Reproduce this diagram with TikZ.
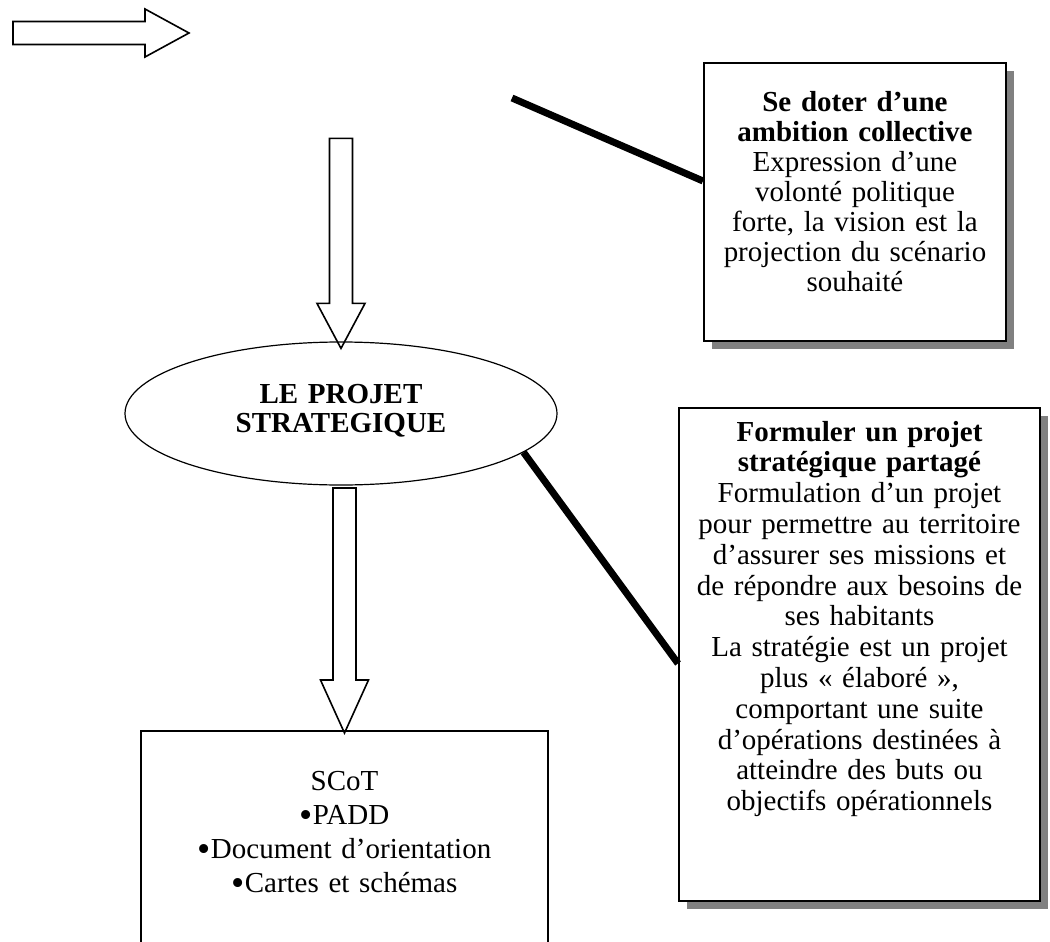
\documentclass[tikz,border=0pt]{standalone}
\usepackage{fontspec}
\usepackage{graphicx}
\setmainfont{Liberation Serif}
\usetikzlibrary{shapes.geometric,shadows,positioning,calc}
\tikzstyle{panel} = [draw, line width=1pt, fill=white, align=center, inner sep=4pt, anchor=north west, general shadow={fill=gray, shadow xshift=4pt, shadow yshift=-4pt}]
\tikzstyle{blockarrow} = [draw, line width=0.8pt, line join=miter]
\tikzstyle{link} = [line width=3.5pt]
\newcommand{\dotitem}{\raisebox{-1.5pt}{\scalebox{1.3}{•}}}

\begin{document}
\begin{tikzpicture}[x=0.5pt, y=-0.5pt]
    \useasboundingbox (0,0) rectangle (1050,942);
    \node[panel, text width=143pt, text height=20pt, text depth=111pt, font=\fontsize{14.5}{15}\selectfont] (vision) at (703,62)
        {\textbf{Se doter d’une}\\ \textbf{ambition collective}\\ Expression d’une\\ volonté politique\\ forte, la vision est la\\ projection du scénario\\ souhaité};
    \node[panel, text width=172.5pt, text height=12.5pt, text depth=226pt, font=\fontsize{14.5}{15.4}\selectfont] (strat) at (678,407)
        {\textbf{Formuler un projet}\\ \textbf{stratégique partagé}\\ Formulation d’un projet\\ pour permettre au territoire\\ d’assurer ses missions et\\ de répondre aux besoins de\\ ses habitants\\ La stratégie est un projet\\ plus « élaboré »,\\ comportant une suite\\ d’opérations destinées à\\ atteindre des buts ou\\ objectifs opérationnels};
    \node[draw, ellipse, line width=0.6pt, minimum width=216pt, minimum height=71.5pt, inner sep=0pt, text width=130pt, align=center, text height=10pt, text depth=20.5pt, font=\fontsize{14.5}{14.5}\selectfont\bfseries] (projet) at (341,413.5) {LE PROJET\\STRATEGIQUE};
    \node[draw, line width=0.8pt, anchor=north, text width=195.5pt, align=center, inner sep=4pt, text height=26pt, text depth=81pt, font=\fontsize{14.5}{17}\selectfont] (scot) at (344.5,730)
        {SCoT\\\dotitem PADD\\\dotitem Document d’orientation\\\dotitem Cartes et schémas};
    % block arrows
    \coordinate (start) at (13,33);
    \draw[blockarrow] (start) ++(0,-11.5) -- ++(132,0) -- ++(0,-12.5) -- ++(44,24) -- ++(-44,24) -- ++(0,-12.5) -- ++(-132,0) -- cycle;
    \draw[blockarrow] ([yshift=-3.5pt]projet.north) -- ++(-24,-45) -- ++(12.5,0) -- ++(0,-165) -- ++(23,0) -- ++(0,165) -- ++(12.5,0) -- cycle;
    \draw[blockarrow] ([yshift=-1.5pt]scot.north) -- ++(-24,-53) -- ++(12.5,0) -- ++(0,-192) -- ++(23,0) -- ++(0,192) -- ++(12.5,0) -- cycle;
    % thick links
    \coordinate (l1) at (512,98);
    \draw[link] (l1) -- ([yshift=10.5pt]vision.west);
    \draw[link] (projet.-12) -- ([yshift=-4.5pt]strat.west);
\end{tikzpicture}
\end{document}
